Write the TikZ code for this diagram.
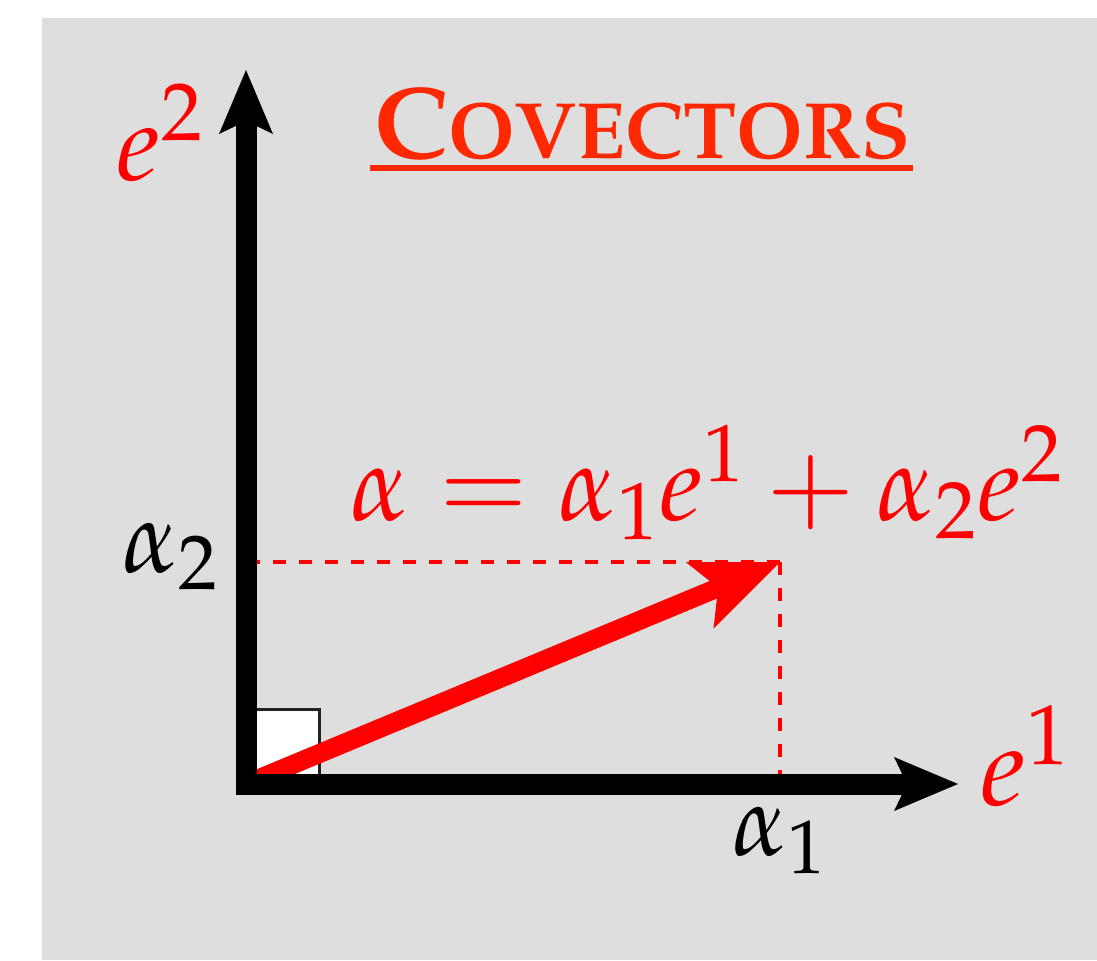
\documentclass[tikz,border=0pt]{standalone}
\usepackage{mathpazo}
\usetikzlibrary{arrows.meta}

\begin{document}
\begin{tikzpicture}[x=.5pt,y=-.5pt,
    axis/.style={line width=10.5pt,line join=miter,
      {Stealth[length=32pt,width=27pt,inset=6.5pt,line width=0pt]}-{Stealth[length=32pt,width=27pt,inset=6.5pt,line width=0pt]}},
    covec/.style={covecred,line width=9.5pt,
      -{Stealth[length=43.5pt,width=36pt,inset=10pt,line width=0pt]}},
    guide/.style={covecred,line width=2pt,dash pattern=on 6.5pt off 6.5pt},
    lbl/.style={anchor=base west,inner sep=0pt}]
  \definecolor{bggray}{RGB}{222,222,222}
  \definecolor{covecred}{RGB}{255,0,0}
  \definecolor{titlered}{RGB}{255,40,0}
  \definecolor{boxgray}{RGB}{34,34,34}
  \useasboundingbox (0,0) rectangle (1097,960);
  \fill[bggray] (42,18) rectangle (1097,960);
  \coordinate (O) at (246,784);
  \coordinate (Y) at (246,70);
  \coordinate (X) at (958,784);
  \coordinate (A) at (780,562);
  \draw[boxgray,fill=white,line width=1.9pt] (O) rectangle ++(73.5,-74.5);
  \draw[guide] (A) -- (A -| O);
  \draw[guide] (A) -- (A |- O);
  \draw[covec] (O) -- (A);
  \draw[axis] (Y) -- (O) -- (X);
  \node[lbl,covecred] (e2) at (116,180) {\fontsize{54}{60}\selectfont$e^2$};
  \node[lbl,covecred] (e1) at (980,805) {\fontsize{56}{62}\selectfont$e^1$};
  \node[lbl] (a2) at (122,572) {\fontsize{51}{56}\selectfont$\alpha_2$};
  \node[lbl] (a1) at (732,855) {\fontsize{50}{56}\selectfont$\alpha_1$};
  \node[lbl,covecred] (sum) at (350,520)
    {\fontsize{53.5}{60}\selectfont$\alpha=\alpha_1e^1+\alpha_2e^2$};
  \node[lbl,titlered] (title) at (374,158)
    {\fontencoding{OT1}\fontfamily{ppl}\bfseries
     \fontsize{51}{56}\selectfont C\fontsize{40}{44}\selectfont OVECTORS};
  \draw[titlered,line width=3pt] ([xshift=-2pt,yshift=-4pt]title.south west)
    -- ([xshift=1pt,yshift=-4pt]title.south east);
\end{tikzpicture}
\end{document}
